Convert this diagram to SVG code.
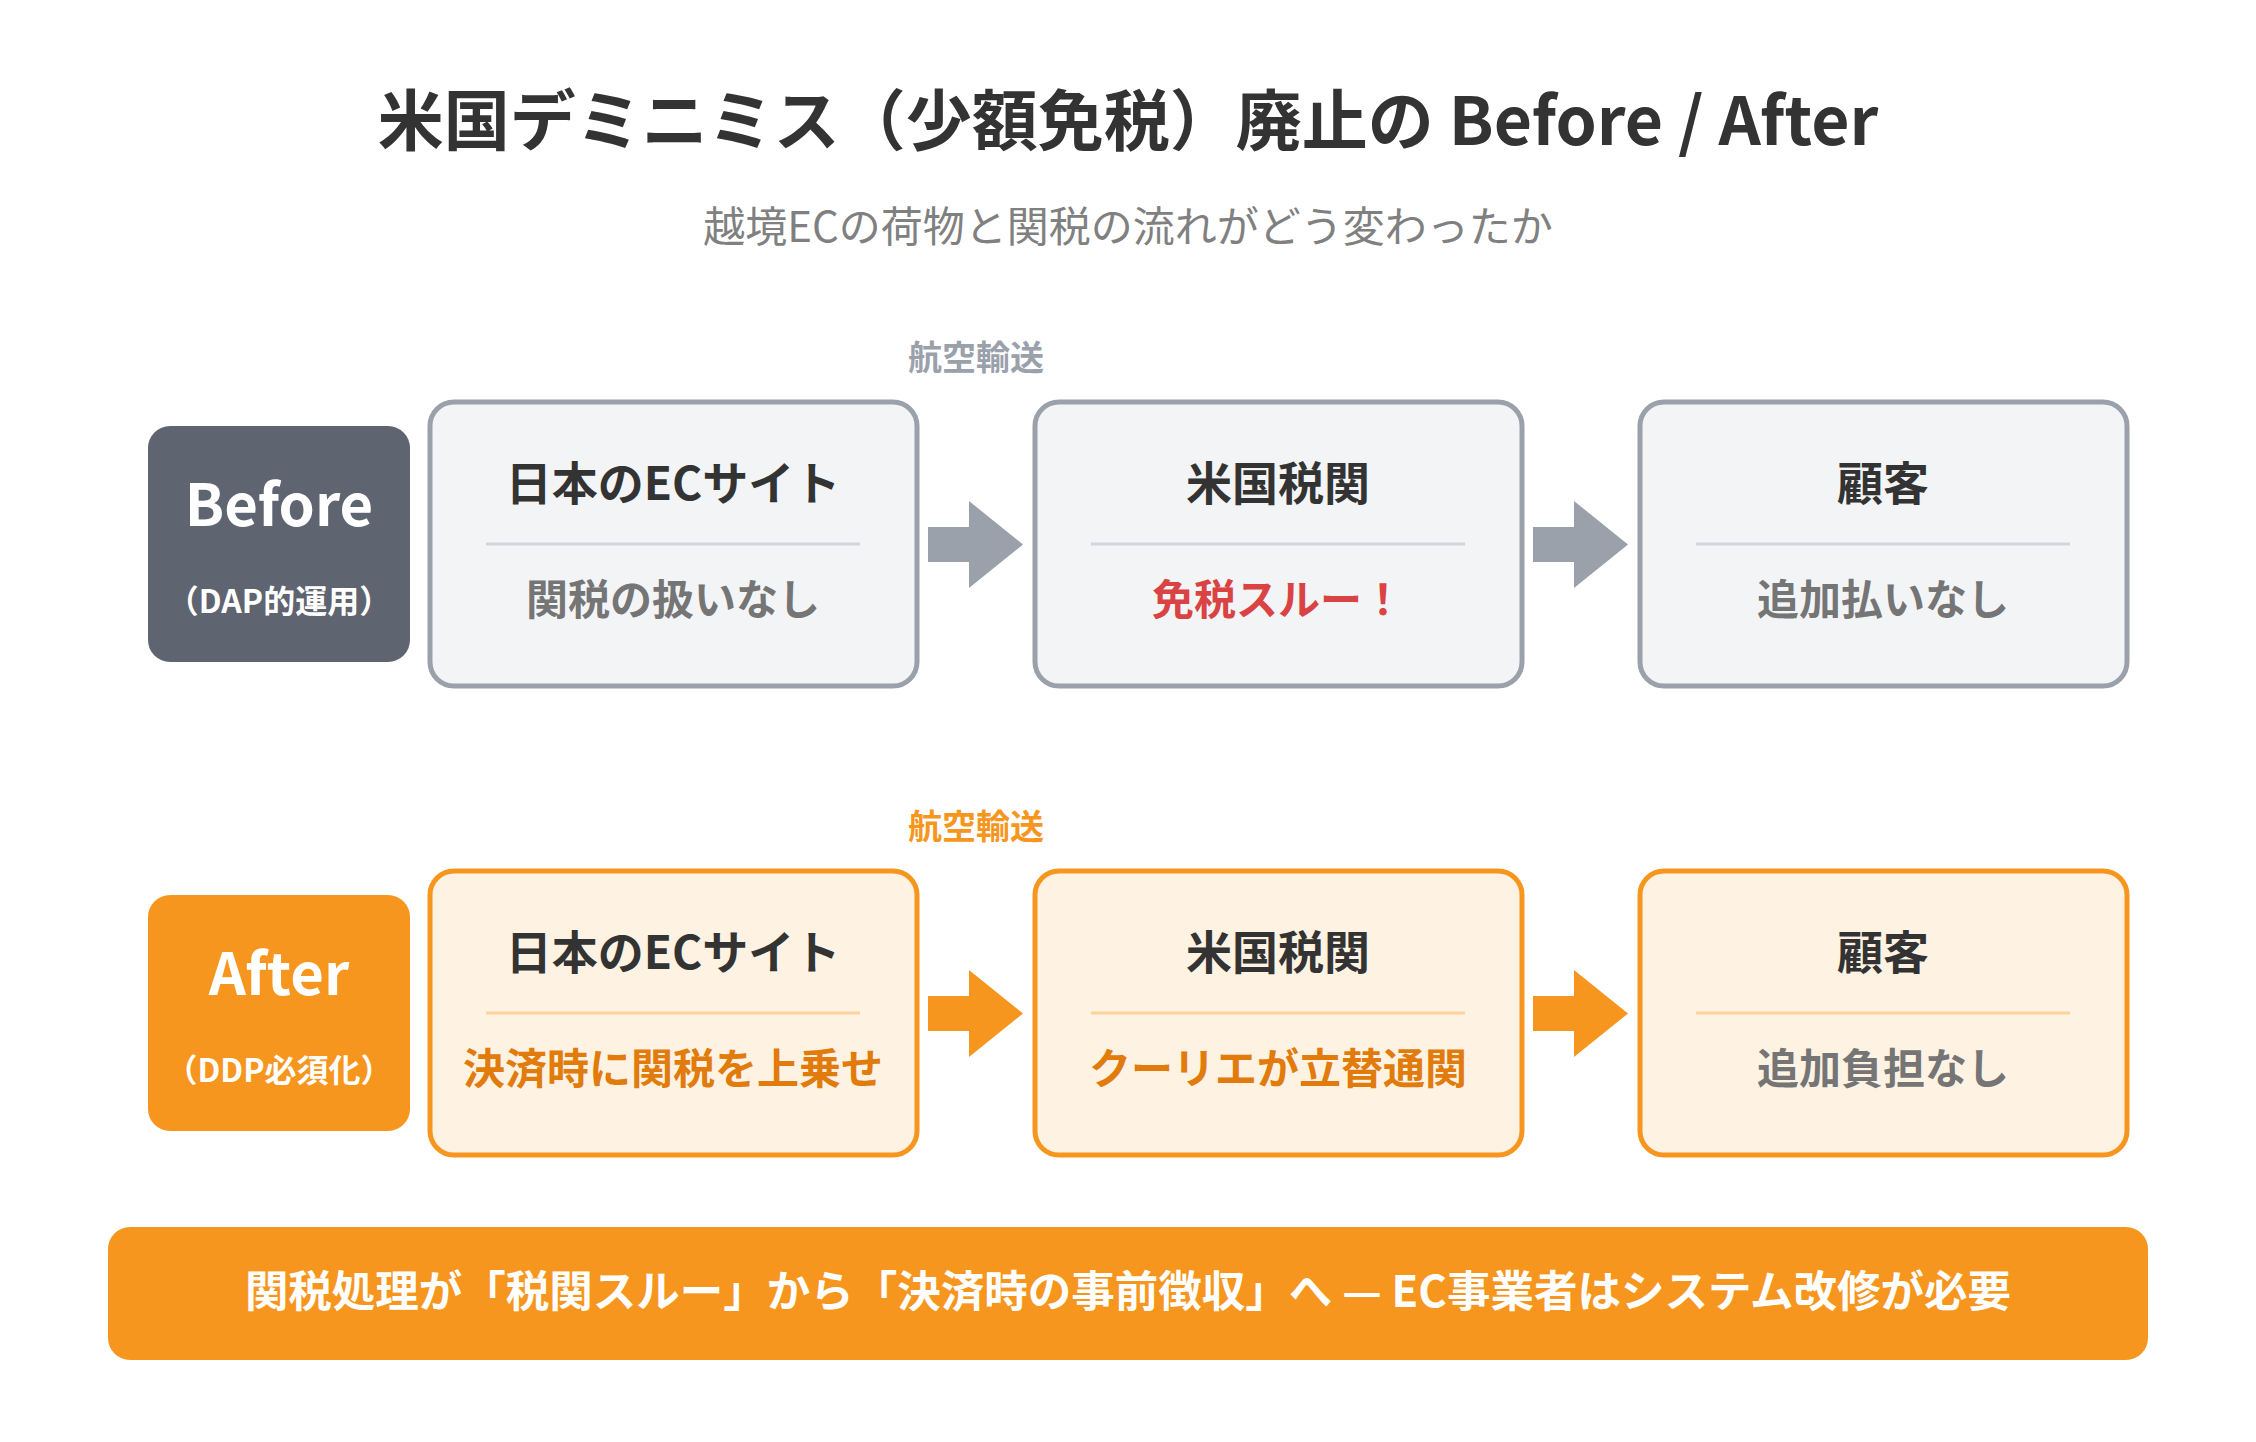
<svg xmlns="http://www.w3.org/2000/svg" width="2256" height="1442" viewBox="0 0 2256 1442">
<style>
text{font-family:"Noto Sans CJK JP","Noto Sans",sans-serif;text-anchor:middle}
.title{font-size:66px;font-weight:700;fill:#333333}
.sub{font-size:42px;font-weight:400;fill:#808080}
.air{font-size:34px;font-weight:700}
.lbl{font-size:58px;font-weight:700;fill:#ffffff}
.lbls{font-size:32px;font-weight:700;fill:#ffffff}
.nh{font-size:46px;font-weight:700;fill:#333333}
.ns{font-size:42px;font-weight:700}
.bbox{fill:#f3f4f6;stroke:#9aa1ab;stroke-width:5}
.abox{fill:#fef2e2;stroke:#f7961e;stroke-width:5}
.bdiv{stroke:#d1d5db;stroke-width:3}
.adiv{stroke:#fcd29a;stroke-width:3}
</style>
<rect width="2256" height="1442" fill="#ffffff"/>
<text class="title" x="1128" y="145">米国デミニミス（少額免税）廃止の Before / After</text>
<text class="sub" x="1128" y="242">越境ECの荷物と関税の流れがどう変わったか</text>

<g id="connectors">
<text class="air" x="976" y="370" fill="#9aa1ab">航空輸送</text>
<polygon points="928,527 969,527 969,501 1023,544.5 969,588 969,562 928,562" fill="#9aa1ab"/>
<polygon points="1533,527 1574,527 1574,501 1628,544.5 1574,588 1574,562 1533,562" fill="#9aa1ab"/>
<text class="air" x="976" y="839" fill="#f7961e">航空輸送</text>
<polygon points="928,996 969,996 969,970 1023,1013.5 969,1057 969,1031 928,1031" fill="#f7961e"/>
<polygon points="1533,996 1574,996 1574,970 1628,1013.5 1574,1057 1574,1031 1533,1031" fill="#f7961e"/>
</g>

<g id="before-label">
<rect x="148" y="426" width="262" height="236" rx="22" fill="#5e6470"/>
<text class="lbl" x="279" y="526">Before</text>
<text class="lbls" x="279" y="613">（DAP的運用）</text>
</g>
<g id="before-ec">
<rect class="bbox" x="430" y="402" width="487" height="284" rx="24"/>
<text class="nh" x="673" y="500">日本のECサイト</text>
<line class="bdiv" x1="486" y1="544" x2="860" y2="544"/>
<text class="ns" x="673" y="615" fill="#757575">関税の扱いなし</text>
</g>
<g id="before-customs">
<rect class="bbox" x="1035" y="402" width="487" height="284" rx="24"/>
<text class="nh" x="1278" y="500">米国税関</text>
<line class="bdiv" x1="1091" y1="544" x2="1465" y2="544"/>
<text class="ns" x="1278" y="615" fill="#d94343">免税スルー！</text>
</g>
<g id="before-customer">
<rect class="bbox" x="1640" y="402" width="487" height="284" rx="24"/>
<text class="nh" x="1883" y="500">顧客</text>
<line class="bdiv" x1="1696" y1="544" x2="2070" y2="544"/>
<text class="ns" x="1883" y="615" fill="#757575">追加払いなし</text>
</g>

<g id="after-label">
<rect x="148" y="895" width="262" height="236" rx="22" fill="#f7961e"/>
<text class="lbl" x="279" y="995">After</text>
<text class="lbls" x="279" y="1082">（DDP必須化）</text>
</g>
<g id="after-ec">
<rect class="abox" x="430" y="871" width="487" height="284" rx="24"/>
<text class="nh" x="673" y="969">日本のECサイト</text>
<line class="adiv" x1="486" y1="1013" x2="860" y2="1013"/>
<text class="ns" x="673" y="1084" fill="#e07b0c">決済時に関税を上乗せ</text>
</g>
<g id="after-customs">
<rect class="abox" x="1035" y="871" width="487" height="284" rx="24"/>
<text class="nh" x="1278" y="969">米国税関</text>
<line class="adiv" x1="1091" y1="1013" x2="1465" y2="1013"/>
<text class="ns" x="1278" y="1084" fill="#e07b0c">クーリエが立替通関</text>
</g>
<g id="after-customer">
<rect class="abox" x="1640" y="871" width="487" height="284" rx="24"/>
<text class="nh" x="1883" y="969">顧客</text>
<line class="adiv" x1="1696" y1="1013" x2="2070" y2="1013"/>
<text class="ns" x="1883" y="1084" fill="#757575">追加負担なし</text>
</g>

<g id="banner">
<rect x="108" y="1227" width="2040" height="133" rx="22" fill="#f7961e"/>
<text x="1128" y="1307" font-size="43.5" font-weight="700" fill="#ffffff">関税処理が「税関スルー」から「決済時の事前徴収」へ — EC事業者はシステム改修が必要</text>
</g>
</svg>
